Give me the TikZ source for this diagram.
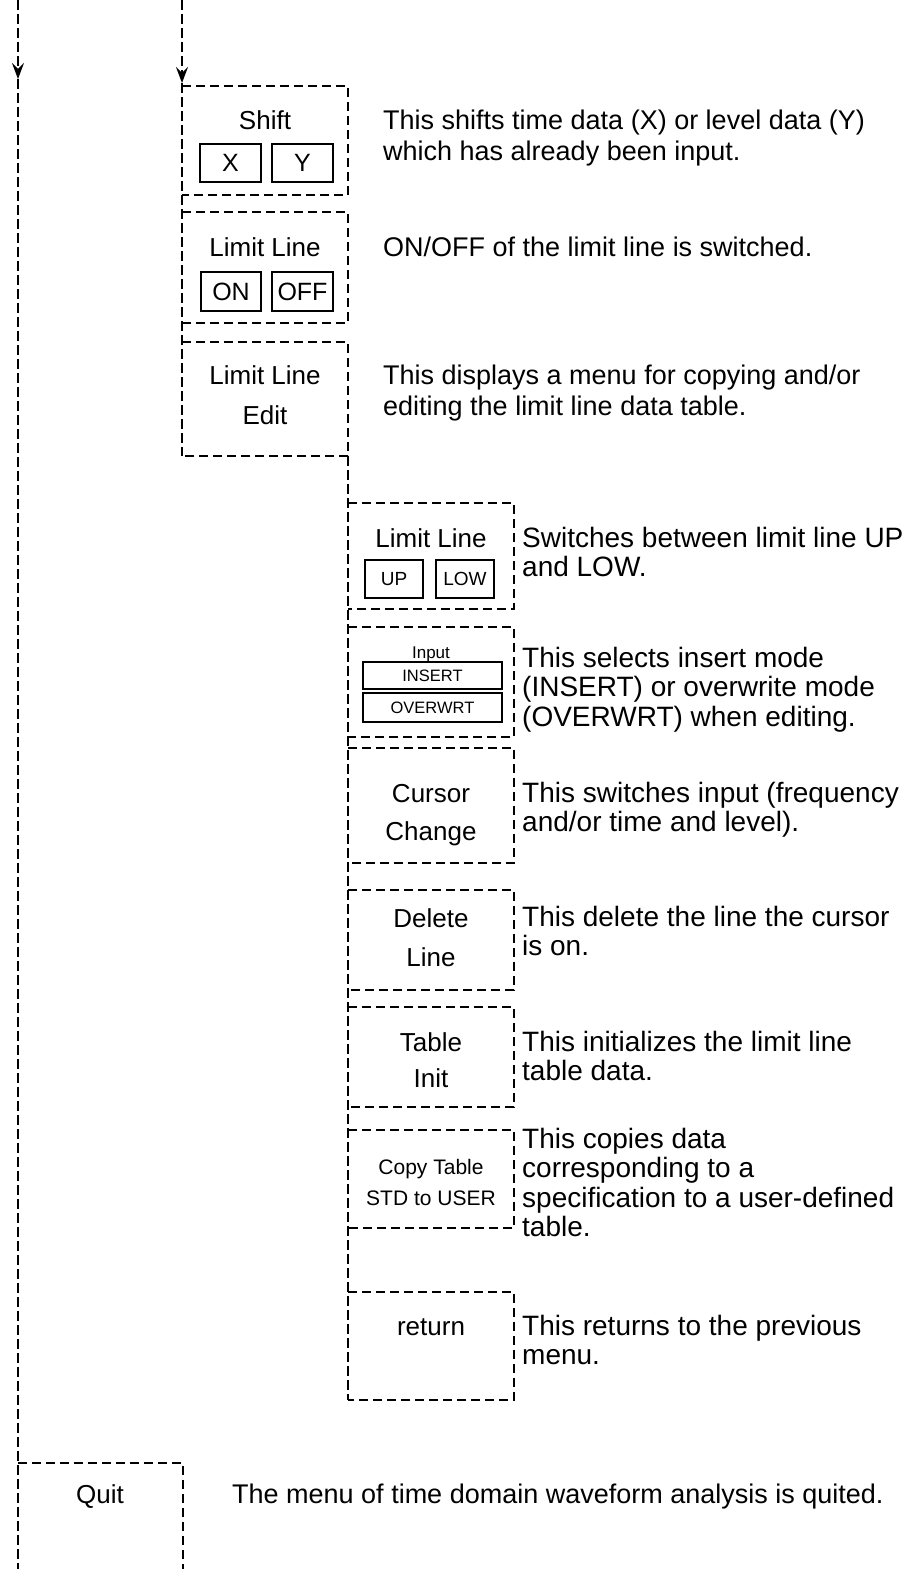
\documentclass[tikz,border=0pt]{standalone}
\usepackage{fontspec}
\setmainfont{Liberation Sans}
\usetikzlibrary{arrows.meta}
\begin{document}
\begin{tikzpicture}[x=1pt,y=-1pt,
  dl/.style={line width=1.3pt, dash pattern=on 9pt off 5pt},
  vl/.style={line width=1.3pt, dash pattern=on 10pt off 4pt},
  menubox/.style={anchor=north west, inner sep=0pt, outer sep=0pt},
  lbl/.style={font=\fontsize{26}{31}\selectfont, inner sep=0pt, anchor=base},
  desc/.style={font=\fontsize{27}{31}\selectfont, inner sep=0pt, anchor=base west, align=left},
  descb/.style={desc, font=\fontsize{28}{29.3}\selectfont},
  btn/.style={draw, line width=1.6pt, inner sep=0pt, font=\fontsize{25}{30}\selectfont},
  tipa/.style={-{Stealth[length=16pt,width=12pt,inset=6pt]}}
]
\useasboundingbox (0,0) rectangle (904,1569);

% menu boxes, column 1
\node[menubox, minimum width=166pt, minimum height=109pt] (shift) at (182,86) {};
\node[menubox, minimum width=166pt, minimum height=111pt] (lim) at (182,212) {};
\node[menubox, minimum width=166pt, minimum height=114pt] (edit) at (182,342) {};
% column 2
\node[menubox, minimum width=166pt, minimum height=106pt] (updown) at (348,503) {};
\node[menubox, minimum width=166pt, minimum height=110pt] (input) at (348,627) {};
\node[menubox, minimum width=166pt, minimum height=115pt] (cursor) at (348,748) {};
\node[menubox, minimum width=166pt, minimum height=100pt] (delete) at (348,890) {};
\node[menubox, minimum width=166pt, minimum height=100pt] (init) at (348,1007) {};
\node[menubox, minimum width=166pt, minimum height=98pt] (copy) at (348,1130) {};
\node[menubox, minimum width=166pt, minimum height=108pt] (ret) at (348,1292) {};
% quit
\node[menubox, minimum width=165pt, minimum height=106pt] (quit) at (18,1463) {};

\foreach \b in {shift,lim,edit,updown,input,cursor,delete,init,copy,ret}
  \draw[dl] (\b.north west) -- (\b.north east) -- (\b.south east) -- (\b.south west);
\draw[dl] (quit.north west) -- (quit.north east) -- (quit.south east);

% vertical flow lines
\coordinate (top1) at (18,0);
\coordinate (arr1) at (18,79);
\coordinate (top2) at (182,0);
\coordinate (arr2) at (182,83);
\draw[vl,tipa] (top1) -- (arr1);
\draw[vl] (arr1) -- (quit.south west);
\draw[vl,tipa] (top2) -- (arr2);
\draw[vl] (arr2) -- (edit.south west);
\draw[vl] (edit.south east) -- (ret.south west);

% labels column 1
\node[lbl] (tshift) at (265,129.3) {Shift};
\node[btn, minimum width=61pt, minimum height=38pt] (bx) at (230.5,163) {X};
\node[btn, minimum width=61pt, minimum height=38pt] (by) at (302.5,163) {Y};
\node[lbl] (tlim) at (265,256.3) {Limit Line};
\node[btn, minimum width=60pt, minimum height=39pt] (bon) at (231,291.5) {ON};
\node[btn, minimum width=61pt, minimum height=39pt] (boff) at (302.5,291.5) {OFF};
\node[lbl, align=center, font=\fontsize{26}{40}\selectfont] (tedit) at (265,424.3) {Limit Line\\Edit};

% labels column 2
\node[lbl] (tud) at (431,547.3) {Limit Line};
\node[btn, minimum width=58pt, minimum height=38pt, font=\fontsize{19}{22}\selectfont] (bup) at (394,579) {UP};
\node[btn, minimum width=58pt, minimum height=38pt, font=\fontsize{19}{22}\selectfont] (blow) at (465,579) {LOW};
\node[lbl, font=\fontsize{17}{20}\selectfont] (tinput) at (431,658) {Input};
\node[btn, minimum width=139pt, minimum height=27pt, font=\fontsize{16.5}{20}\selectfont] (bins) at (432.5,675.5) {INSERT};
\node[btn, minimum width=139pt, minimum height=29pt, font=\fontsize{16.5}{20}\selectfont] (bovw) at (432.5,707.5) {OVERWRT};
\node[lbl, align=center, font=\fontsize{26}{38}\selectfont] (tcur) at (431,840.3) {Cursor\\Change};
\node[lbl, align=center, font=\fontsize{26}{39}\selectfont] (tdel) at (431,966.3) {Delete\\Line};
\node[lbl, align=center, font=\fontsize{26}{36}\selectfont] (tinit) at (431,1087.3) {Table\\Init};
\node[lbl, align=center, font=\fontsize{21}{31}\selectfont] (tcopy) at (431,1205.5) {Copy Table\\STD to USER};
\node[lbl] (tret) at (431,1335.3) {return};
\node[lbl] (tquit) at (100,1503.3) {Quit};

% descriptions
\node[desc] (d1) at (383,160.5) {This shifts time data (X) or level data (Y)\\which has already been input.};
\node[desc] (d2) at (383,256.5) {ON/OFF of the limit line is switched.};
\node[desc] (d3) at (383,415.5) {This displays a menu for copying and/or\\editing the limit line data table.};
\node[descb] (d4) at (522,576.8) {Switches between limit line UP\\and LOW.};
\node[descb] (d5) at (522,726.1) {This selects insert mode\\(INSERT) or overwrite mode\\(OVERWRT) when editing.};
\node[descb] (d6) at (522,831.8) {This switches input (frequency\\and/or time and level).};
\node[descb] (d7) at (522,955.8) {This delete the line the cursor\\is on.};
\node[descb] (d8) at (522,1080.8) {This initializes the limit line\\table data.};
\node[descb] (d9) at (522,1236.4) {This copies data\\corresponding to a\\specification to a user-defined\\table.};
\node[descb] (d10) at (522,1364.8) {This returns to the previous\\menu.};
\node[desc] (d11) at (232,1503.5) {The menu of time domain waveform analysis is quited.};
\end{tikzpicture}
\end{document}
